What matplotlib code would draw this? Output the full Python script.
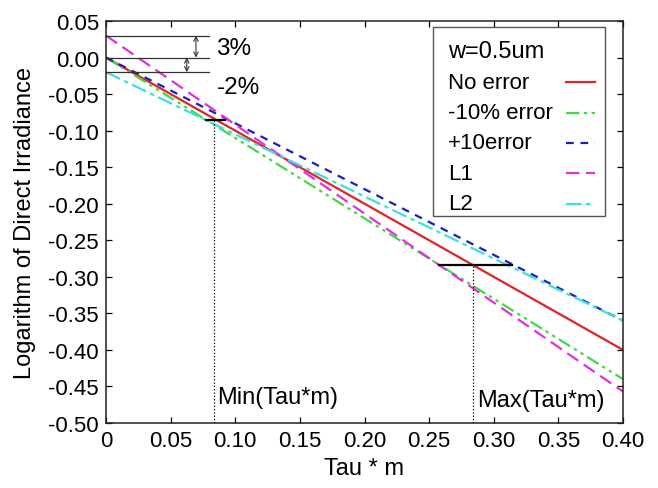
import numpy as np
import matplotlib
matplotlib.use("Agg")
import matplotlib.pyplot as plt
from matplotlib.patches import Rectangle

plt.rcParams.update({"font.family": ["Liberation Sans", "DejaVu Sans"]})

# data (straight lines, end points)
tau = [0.0, 0.40]
no_error = [0.0, -0.400]
minus10 = [0.0, -0.440]
plus10 = [0.0, -0.360]
line_l1 = [0.030, -0.457]
line_l2 = [-0.020, -0.360]

# reference levels (3% / -2% construction)
ref_levels = [0.03, 0.00, -0.02]
ref_xmax = 0.080
tau_min, tau_max = 0.0836, 0.284
min_seg_x, min_seg_y = [0.077, 0.092], -0.086
max_seg_x, max_seg_y = [0.258, 0.314], -0.284

series = [
    ("No error",     no_error, "#e02424", "-"),
    ("-10% error",   minus10,  "#44d844", (0, (6, 2, 1.5, 2, 1.5, 2))),
    ("+10error",     plus10,   "#1c1ccc", (0, (3.5, 3))),
    ("L1",           line_l1,  "#e030e0", (0, (6, 3))),
    ("L2",           line_l2,  "#3ce0e0", (0, (7, 2, 2, 2))),
]

fig = plt.figure(figsize=(6.58, 4.89), dpi=100)
ax = fig.add_axes([106 / 658, 65 / 489, 517 / 658, 402 / 489])

for label, ys, col, ls in series:
    ax.plot(tau, ys, color=col, ls=ls, lw=1.6, label=label)

# horizontal reference lines and double arrows
for lv in ref_levels:
    ax.plot([0, ref_xmax], [lv, lv], color="#333333", lw=0.9)
ax.annotate("", xy=(0.0696, ref_levels[0]), xytext=(0.0696, ref_levels[1]),
            arrowprops=dict(arrowstyle="<->", color="#333333", lw=0.8,
                            mutation_scale=8, shrinkA=0, shrinkB=0))
ax.annotate("", xy=(0.0625, ref_levels[1]), xytext=(0.0625, ref_levels[2]),
            arrowprops=dict(arrowstyle="<->", color="#333333", lw=0.8,
                            mutation_scale=8, shrinkA=0, shrinkB=0))
ax.text(0.0855, 0.013, "3%", fontsize=17.5, va="center", ha="left")
ax.text(0.0855, -0.040, "-2%", fontsize=17.5, va="center", ha="left")

# min / max markers
ax.plot(min_seg_x, [min_seg_y] * 2, color="black", lw=1.6, zorder=5)
ax.plot(max_seg_x, [max_seg_y] * 2, color="black", lw=1.6, zorder=5)
ax.plot([tau_min, tau_min], [-0.50, min_seg_y], color="black", lw=0.9, ls=":")
ax.plot([tau_max, tau_max], [-0.50, max_seg_y], color="black", lw=0.9, ls=":")
ax.text(tau_min + 0.0025, -0.464, "Min(Tau*m)", fontsize=17, va="center", ha="left")
ax.text(tau_max + 0.0030, -0.468, "Max(Tau*m)", fontsize=17, va="center", ha="left")

ax.set_xlim(0, 0.40)
ax.set_ylim(-0.50, 0.05)
xt = np.arange(0, 0.401, 0.05)
yt = np.arange(-0.50, 0.051, 0.05)
ax.set_xticks(xt)
ax.set_xticklabels(["0"] + [f"{v:.2f}" for v in xt[1:]])
ax.set_yticks(yt)
ax.set_yticklabels([f"{v:.2f}" if abs(v) > 1e-9 else "0.00" for v in yt])
ax.tick_params(direction="in", top=True, right=True, length=4, width=0.9,
               labelsize=16, pad=5)
for sp in ax.spines.values():
    sp.set_linewidth(1.1)
    sp.set_color("#222222")

ax.set_xlabel("Tau * m", fontsize=17)
ax.set_ylabel("Logarithm of Direct Irradiance", fontsize=17)
ax.xaxis.set_label_coords(0.5, -0.085)
ax.yaxis.set_label_coords(-0.135, 0.5)

# gnuplot-style key: text left, sample line at right
ax.add_patch(Rectangle((0.6325, 0.515), 0.3325, 0.470, transform=ax.transAxes,
                       facecolor="white", edgecolor="#555555", lw=1.0, zorder=6))
ax.text(0.6615, 0.925, "w=0.5um", transform=ax.transAxes, fontsize=17,
        va="center", ha="left", zorder=7)
row_y0, row_step = 0.848, 0.0757
for i, (label, ys, col, ls) in enumerate(series):
    yy = row_y0 - i * row_step
    ax.text(0.6615, yy, label, transform=ax.transAxes, fontsize=16,
            va="center", ha="left", zorder=7)
    ax.plot([0.890, 0.946], [yy, yy], transform=ax.transAxes, color=col,
            ls=ls, lw=1.6, zorder=7)

fig.savefig("out.png", dpi=100, facecolor="white")
